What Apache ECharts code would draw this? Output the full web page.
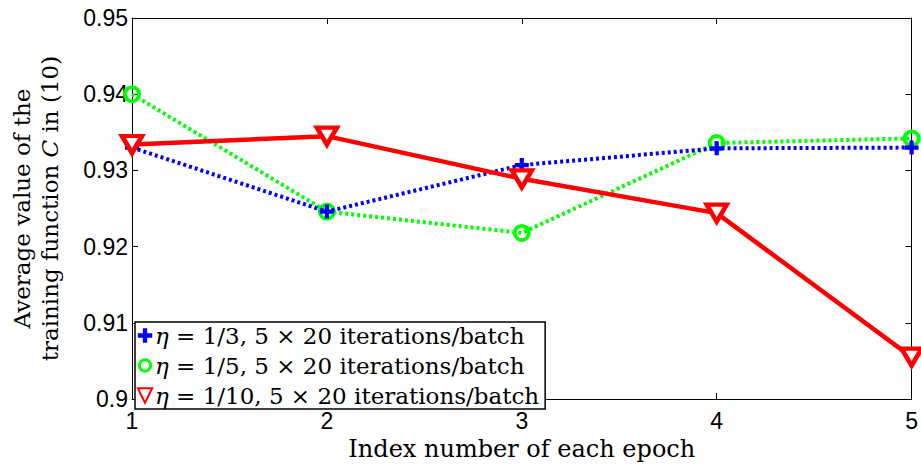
<!DOCTYPE html>
<html>
<head>
<meta charset="utf-8">
<script src="https://cdn.jsdelivr.net/npm/echarts@6/dist/echarts.min.js"></script>
<style>html,body{margin:0;padding:0;background:#fff;}#c{width:921px;height:466px;}</style>
</head>
<body>
<div id="c"></div>
<script>
const epochs = [1, 2, 3, 4, 5];
const eta3 = [0.9330, 0.9246, 0.9307, 0.9329, 0.9330];
const eta5 = [0.9400, 0.9246, 0.9218, 0.9336, 0.9342];
const eta10 = [0.9334, 0.9345, 0.9289, 0.9244, 0.9055];
const seriesNames = [
  'η = 1/3, 5 × 20 iterations/batch',
  'η = 1/5, 5 × 20 iterations/batch',
  'η = 1/10, 5 × 20 iterations/batch'
];
const xName = 'Index number of each epoch';
const yNameLines = ['Average value of the', 'training function {i|C} in (10)'];

const SERIF = '"DejaVu Serif", "Liberation Serif", serif';
const SANS = '"Liberation Sans", Arial, sans-serif';
const pair = (vals) => epochs.map((e, i) => [e, vals[i]]);

const plusPath = 'path://M3.5,0 H6.5 V3.5 H10 V6.5 H6.5 V10 H3.5 V6.5 H0 V3.5 H3.5 Z';
const ringPath = 'path://M10,0 A10,10 0 1,1 10,20 A10,10 0 1,1 10,0 Z M10,4.2 A5.8,5.8 0 1,0 10,15.8 A5.8,5.8 0 1,0 10,4.2 Z';
const triPath = 'path://M0,0 L10,0 L5,8.66 Z';

const chart = echarts.init(document.getElementById('c'), null, {renderer: 'svg'});
const axisBase = {
  axisLine: {show: true, lineStyle: {color: '#000', width: 1}},
  axisTick: {show: true, inside: true, length: 6, lineStyle: {color: '#000'}},
  splitLine: {show: false}
};
chart.setOption({
  animation: false,
  backgroundColor: '#fff',
  grid: {left: 132, right: 7, top: 18, bottom: 54, containLabel: false},
  xAxis: [
    Object.assign({}, axisBase, {
      type: 'value', min: 1, max: 5, interval: 1, position: 'bottom',
      axisLabel: {color: '#000', fontFamily: SANS, fontSize: 23, margin: 10},
      name: xName, nameLocation: 'middle', nameGap: 30,
      nameTextStyle: {color: '#000', fontFamily: SERIF, fontSize: 24}
    }),
    Object.assign({}, axisBase, {
      type: 'value', min: 1, max: 5, interval: 1, position: 'top',
      axisLabel: {show: false}
    })
  ],
  yAxis: [
    Object.assign({}, axisBase, {
      type: 'value', min: 0.9, max: 0.95, interval: 0.01, position: 'left',
      axisLabel: {color: '#000', fontFamily: SANS, fontSize: 23, margin: 4},
      name: yNameLines.join('\n'), nameLocation: 'middle', nameGap: 68, nameRotate: 90,
      nameTextStyle: {color: '#000', fontFamily: SERIF, fontSize: 23, lineHeight: 28,
        rich: {i: {fontStyle: 'italic', fontFamily: SERIF, fontSize: 23, color: '#000'}}}
    }),
    Object.assign({}, axisBase, {
      type: 'value', min: 0.9, max: 0.95, interval: 0.01, position: 'right',
      axisLabel: {show: false}
    })
  ],
  legend: {
    orient: 'vertical',
    left: 135, top: 322,
    backgroundColor: '#fff',
    borderColor: '#000', borderWidth: 1.5, borderRadius: 0,
    padding: [2, 6, 2, 0],
    itemGap: 7, itemWidth: 18, itemHeight: 18,
    lineStyle: {opacity: 0},
    textStyle: {color: '#000', fontFamily: SERIF, fontSize: 23, padding: [0, 0, 0, -4],
      rich: {i: {fontStyle: 'italic', fontFamily: SERIF, fontSize: 23, color: '#000'}}},
    formatter: (n) => n.replace('η', '{i|η}'),
    data: seriesNames
  },
  series: [
    {
      name: seriesNames[0], type: 'line', data: pair(eta3),
      symbol: plusPath, symbolSize: 14, z: 3,
      itemStyle: {color: '#0000ff'},
      lineStyle: {color: '#0000ff', width: 4, type: [3, 3]}
    },
    {
      name: seriesNames[1], type: 'line', data: pair(eta5),
      symbol: ringPath, symbolSize: 18, z: 2,
      itemStyle: {color: '#00ff00', borderWidth: 0},
      lineStyle: {color: '#00ff00', width: 4, type: [3, 3]}
    },
    {
      name: seriesNames[2], type: 'line', data: pair(eta10),
      symbol: triPath, symbolSize: [20, 17], z: 4,
      itemStyle: {color: '#fff', borderColor: '#ff0000', borderWidth: 4.5},
      lineStyle: {color: '#ff0000', width: 4.5}
    }
  ]
});
</script>
</body>
</html>
